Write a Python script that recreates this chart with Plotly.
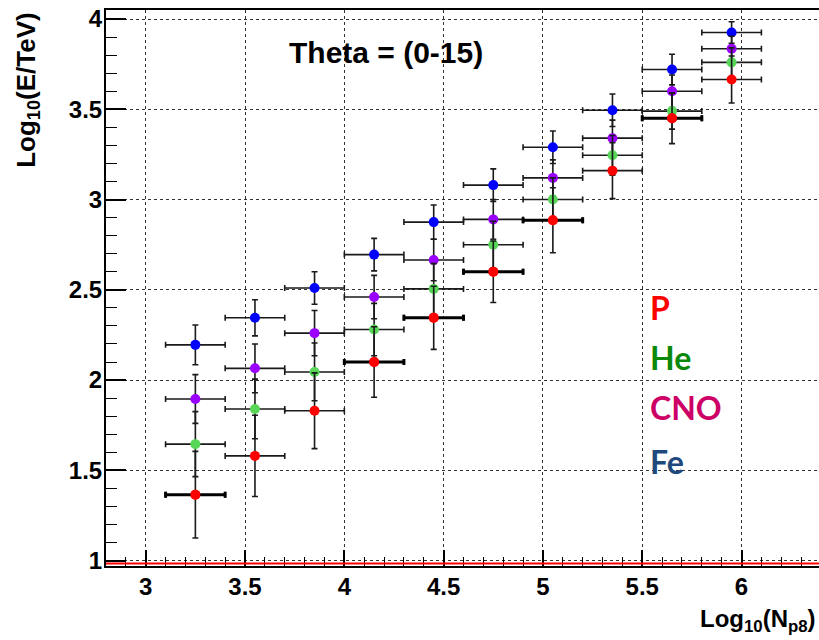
import plotly.graph_objects as go

# Bin centres in log10(N_p8) and half-width of each bin
x_centres = [3.25, 3.55, 3.85, 4.15, 4.45, 4.75, 5.05, 5.35, 5.65, 5.95]
x_halfwidth = 0.15

# Mean log10(E/TeV) per bin and its spread, one list per primary
fe_y = [2.195, 2.345, 2.51, 2.695, 2.875, 3.08, 3.29, 3.495, 3.72, 3.925]
fe_err = [0.11, 0.10, 0.09, 0.09, 0.095, 0.09, 0.09, 0.09, 0.085, 0.06]

cno_y = [1.895, 2.065, 2.26, 2.46, 2.665, 2.89, 3.12, 3.34, 3.60, 3.835]
cno_err = [0.135, 0.135, 0.125, 0.12, 0.115, 0.11, 0.10, 0.10, 0.09, 0.07]

he_y = [1.645, 1.84, 2.045, 2.28, 2.505, 2.75, 3.0, 3.245, 3.49, 3.76]
he_err = [0.18, 0.165, 0.16, 0.145, 0.14, 0.13, 0.12, 0.11, 0.10, 0.08]

p_y = [1.365, 1.58, 1.83, 2.10, 2.345, 2.60, 2.885, 3.16, 3.45, 3.665]
p_err = [0.24, 0.225, 0.21, 0.195, 0.175, 0.17, 0.18, 0.155, 0.14, 0.13]
# proton bins whose horizontal bar is drawn heavier
p_heavy = [0, 3, 4, 5, 6, 8]

legend_labels = ["P", "He", "CNO", "Fe"]
legend_colors = ["#ff0000", "#0a880a", "#cc0066", "#1f497d"]
legend_y = [2.404, 2.127, 1.85, 1.551]

x_ticks = [3, 3.5, 4, 4.5, 5, 5.5, 6]
y_ticks = [1, 1.5, 2, 2.5, 3, 3.5, 4]

BAR = "#1a1a1a"
SANS = "Liberation Sans, Arial, sans-serif"


def series(y, err, color, xthick=1.6):
    return go.Scatter(
        x=x_centres, y=y, mode="markers",
        marker=dict(color=color, size=10, line=dict(width=0)),
        error_x=dict(type="constant", value=x_halfwidth, color=BAR,
                     thickness=xthick, width=3),
        error_y=dict(type="data", array=err, color=BAR,
                     thickness=1.6, width=3),
        showlegend=False, hoverinfo="x+y",
    )


fig = go.Figure()
fig.add_trace(series(fe_y, fe_err, "#0000ff"))
fig.add_trace(series(cno_y, cno_err, "#9900ff"))
fig.add_trace(series(he_y, he_err, "#57d657"))
fig.add_trace(series(p_y, p_err, "#ff0000"))
fig.add_trace(go.Scatter(
    x=[x_centres[i] for i in p_heavy], y=[p_y[i] for i in p_heavy],
    mode="markers", marker=dict(color="#ff0000", size=10, line=dict(width=0)),
    error_x=dict(type="constant", value=x_halfwidth, color="#000000",
                 thickness=3, width=3),
    showlegend=False, hoverinfo="skip",
))

tick_font = dict(family=SANS, size=24, color="#000000", weight="bold")

fig.update_layout(
    width=819, height=640,
    margin=dict(l=106, r=0, t=10, b=74),
    paper_bgcolor="#ffffff", plot_bgcolor="#ffffff",
    font=dict(family=SANS, color="#000000"),
    xaxis=dict(
        range=[2.8, 6.39], tickvals=x_ticks, ticks="inside", ticklen=16,
        tickwidth=1.5, tickcolor="#000000",
        minor=dict(dtick=0.1, tick0=3, ticks="inside", ticklen=9,
                   tickwidth=1.2, tickcolor="#000000", showgrid=False),
        showgrid=True, gridcolor="#333333", griddash="dot", gridwidth=1.2,
        showline=True, linecolor="#000000", linewidth=2, mirror=True,
        zeroline=False, tickfont=tick_font, ticklabelstandoff=-2,
    ),
    yaxis=dict(
        range=[0.97, 4.05], tickvals=y_ticks, ticks="inside", ticklen=20,
        tickwidth=1.5, tickcolor="#000000",
        minor=dict(dtick=0.1, tick0=1, ticks="inside", ticklen=11,
                   tickwidth=1.2, tickcolor="#000000", showgrid=False),
        showgrid=True, gridcolor="#333333", griddash="dot", gridwidth=1.2,
        showline=True, linecolor="#000000", linewidth=2, mirror=False,
        zeroline=False, tickfont=tick_font, ticklabelstandoff=-3,
    ),
)

# red baseline just above the lower frame
fig.add_shape(type="line", xref="paper", yref="paper", x0=0, x1=1,
              y0=0.0045, y1=0.0045, line=dict(color="#ff0000", width=2))

fig.add_annotation(
    text="<b>Theta = (0-15)</b>", x=4.212, y=3.817, xref="x", yref="y",
    showarrow=False, xanchor="center", yanchor="middle",
    font=dict(family=SANS, size=30, color="#000000"),
)

fig.add_annotation(
    text="<b>Log<sub>10</sub>(E/TeV)</b>", textangle=-90,
    x=-0.111, y=1.0, xref="paper", yref="paper",
    xanchor="center", yanchor="top", showarrow=False,
    font=dict(family=SANS, size=26, color="#000000"),
)

fig.add_annotation(
    text="<b>Log<sub>10</sub>(N<sub>p8</sub>)</b>",
    x=0.998, y=-0.066, xref="paper", yref="paper",
    xanchor="right", yanchor="top", showarrow=False,
    font=dict(family=SANS, size=24, color="#000000"),
)

for label, color, ypos in zip(legend_labels, legend_colors, legend_y):
    fig.add_annotation(
        text=f"<b>{label}</b>", x=5.529, y=ypos, xref="x", yref="y",
        xanchor="left", yanchor="middle", showarrow=False,
        font=dict(family="Lato, Noto Sans, sans-serif", size=32, color=color),
    )

fig.write_html("out.html")
